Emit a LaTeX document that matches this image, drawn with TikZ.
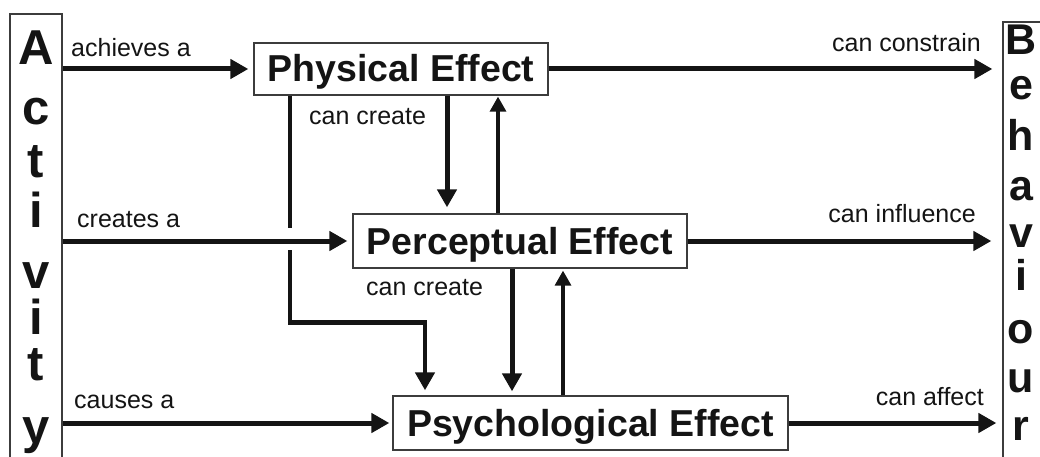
\documentclass[tikz,border=0pt]{standalone}
\usepackage{fontspec}
\setmainfont{Liberation Sans}
\usetikzlibrary{arrows.meta}
\definecolor{boxgray}{RGB}{60,60,60}
\definecolor{ink}{RGB}{20,20,20}
\begin{document}
\begin{tikzpicture}[x=1pt,y=-1pt,
  effectbox/.style={draw=boxgray, line width=1.3pt, inner sep=0pt,
    font=\fontsize{37.5}{40}\selectfont\bfseries, text=ink,
    text height=26pt, text depth=0pt},
  sidebox/.style={draw=boxgray, line width=1.3pt, inner sep=0pt},
  actletter/.style={font=\fontsize{49}{49}\selectfont\bfseries, text=ink, anchor=base, inner sep=0pt},
  behletter/.style={font=\fontsize{43}{43}\selectfont\bfseries, text=ink, anchor=base, inner sep=0pt},
  lbl/.style={font=\fontsize{25}{30}\selectfont, text=ink, inner sep=0pt},
  thickarrow/.style={draw=ink, line width=5pt, -{Triangle[length=18pt,width=19pt]}},
  elbowarrow/.style={draw=ink, line width=4.5pt, -{Triangle[length=18pt,width=19pt]}},
  thinarrow/.style={draw=ink, line width=3.3pt, -{Triangle[length=15pt,width=16pt]}}
]
\useasboundingbox (0,0) rectangle (1040,457);

% side boxes running past the lower edge
\node[sidebox, minimum width=52pt, minimum height=456pt] (act) at (36,242) {};
\node[sidebox, minimum width=57pt, minimum height=458pt] (beh) at (1031.5,251) {};

\foreach \ch/\yy [count=\k] in {A/65,c/125,t/177,i/227,v/288,i/334,t/380,y/443}
  \node[actletter] (act\k) at (36,\yy) {\ch};
\foreach \ch/\yy [count=\k] in {B/55,e/100,h/150,a/200,v/247,i/290,o/343,u/392,r/440}
  \node[behletter] (beh\k) at (1021,\yy) {\ch};

% the three effects
\node[effectbox, minimum width=294pt, minimum height=52pt] (phys) at (401,69) {Physical Effect};
\node[effectbox, minimum width=334pt, minimum height=54pt] (perc) at (520,241) {Perceptual Effect};
\node[effectbox, minimum width=395pt, minimum height=54pt] (psych) at (590.5,423) {Psychological Effect};

% physical effect down to psychological effect (drawn first, crossed below)
\draw[elbowarrow, shorten >=5pt] ([xshift=-111pt]phys.south) -- ++(0,227) coordinate (bend)
  -| ([xshift=-165.5pt]psych.north);
\fill[white] (283,228) rectangle (297,250);

% activity to effects
\draw[thickarrow, shorten >=5pt] (act.east |- phys.west) -- (phys.west);
\draw[thickarrow, shorten >=5pt] (act.east |- perc.west) -- (perc.west);
\draw[thickarrow, shorten >=3pt] (act.east |- psych.west) -- (psych.west);

% effects to behaviour
\draw[thickarrow, shorten >=10pt] (phys.east) -- (beh.west |- phys.east);
\draw[thickarrow, shorten >=11pt] (perc.east) -- (beh.west |- perc.east);
\draw[thickarrow, shorten >=6pt] (psych.east) -- (beh.west |- psych.east);

% between the effects
\draw[thickarrow, shorten >=6pt] ([xshift=46pt]phys.south) -- ([xshift=46pt]phys.south |- perc.north);
\draw[thinarrow, shorten >=1pt] ([xshift=97pt]phys.south |- perc.north) -- ([xshift=97pt]phys.south);
\draw[thickarrow, shorten >=4pt] ([xshift=-8pt]perc.south) -- ([xshift=-8pt]perc.south |- psych.north);
\draw[thinarrow, shorten >=2pt] ([xshift=43pt]perc.south |- psych.north) -- ([xshift=43pt]perc.south);

% connector labels
\node[lbl, anchor=base west] (lachieves) at (71,57) {achieves a};
\node[lbl, anchor=base west] (lcreates) at (77,227) {creates a};
\node[lbl, anchor=base west] (lcauses) at (74,408) {causes a};
\node[lbl, anchor=base east] (lconstrain) at (981,52) {can constrain};
\node[lbl, anchor=base east] (linfluence) at (976,222) {can influence};
\node[lbl, anchor=base east] (laffect) at (984,405) {can affect};
\node[lbl, anchor=base west] (lcreate1) at (309,125) {can create};
\node[lbl, anchor=base west] (lcreate2) at (366,295) {can create};
\end{tikzpicture}
\end{document}
